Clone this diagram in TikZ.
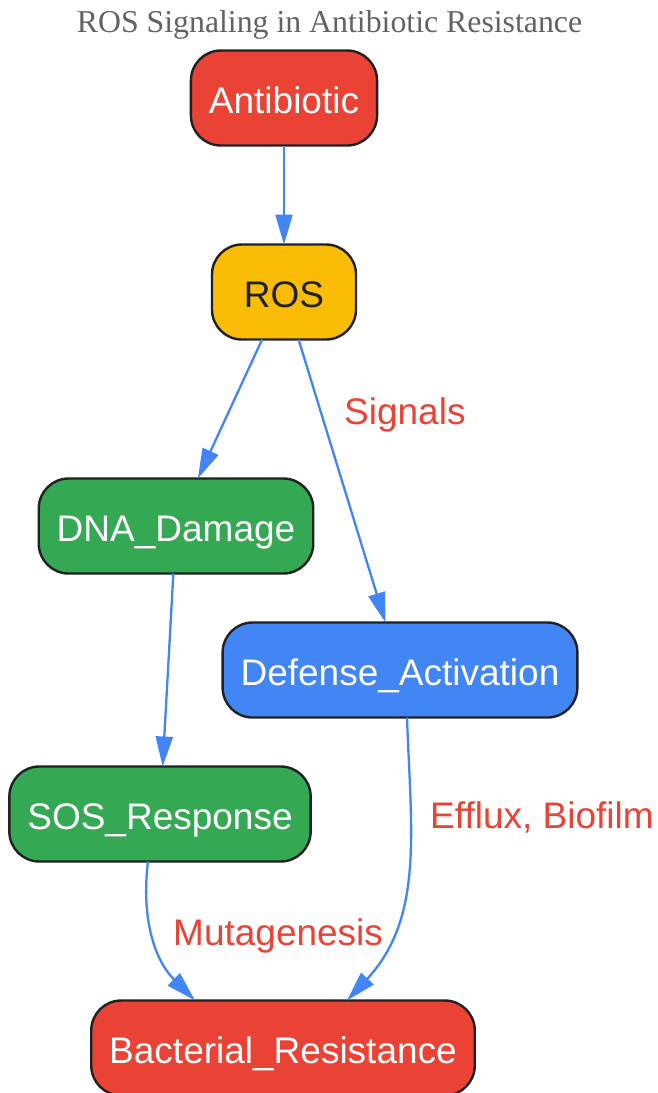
\documentclass[tikz,border=0pt]{standalone}
\usepackage{fontspec}
\setmainfont{Liberation Serif}
\newfontfamily\nodefont{Liberation Sans}
\usetikzlibrary{arrows.meta,positioning}

\definecolor{gred}{HTML}{EA4335}
\definecolor{gyellow}{HTML}{FBBC05}
\definecolor{ggreen}{HTML}{34A853}
\definecolor{gblue}{HTML}{4285F4}
\definecolor{gdark}{HTML}{202124}
\definecolor{ggray}{HTML}{5F6368}

\begin{document}
\begin{tikzpicture}[x=1pt,y=1pt,->,>={Triangle[length=30pt,width=17pt]},
    every edge/.style={draw=gblue,line width=2.3pt},
    main node/.style={draw=gdark,line width=2.4pt,rounded corners=30pt,minimum height=95pt,outer sep=0pt,
        minimum width=144pt,inner xsep=18pt,text height=30pt,text depth=0pt,
        font=\nodefont\fontsize{37}{44}\selectfont,text=white},
    edge label/.style={font=\nodefont\fontsize{37}{44}\selectfont,text=gred,inner sep=0pt,anchor=base west}]

    \useasboundingbox (0,0) rectangle (657,-1093);

    \node[font=\fontsize{31.8}{38}\selectfont,text=ggray,anchor=base,inner sep=0pt] (title) at (329.5,-32)
        {ROS Signaling in Antibiotic Resistance};

    \node[main node,fill=gred] (ab) at (284,-98) {Antibiotic};
    \node[main node,fill=gyellow,text=gdark] (ros) [below=99pt of ab] {ROS};

    \node[main node,fill=ggreen] (dna) [below=139pt of ros,xshift=-108pt] {DNA\_Damage};
    \node[main node,fill=gblue] (def) [below=283pt of ros,xshift=116pt] {Defense\_Activation};
    \node[main node,fill=ggreen] (sos) [below=193pt of dna,xshift=-16pt] {SOS\_Response};

    \node[main node,fill=gred] (res) [below=139pt of sos,xshift=123pt] {Bacterial\_Resistance};

    \node[edge label] (signals) at (344,-424) {Signals};
    \node[edge label] (efflux) at (430,-828) {Efflux, Biofilm};
    \node[edge label] (mutagen) at (173,-945) {Mutagenesis};


    \path (ab) edge (ros);

    \path (ros) edge (dna);
    \path (ros) edge (def);

    \path (dna) edge (sos);

    \path ([xshift=7pt]def.south) edge[out=-88,in=47] ([xshift=64pt]res.north);
    \path ([xshift=-12pt]sos.south) edge[out=-97,in=135] ([xshift=-88pt]res.north);
\end{tikzpicture}
\end{document}
